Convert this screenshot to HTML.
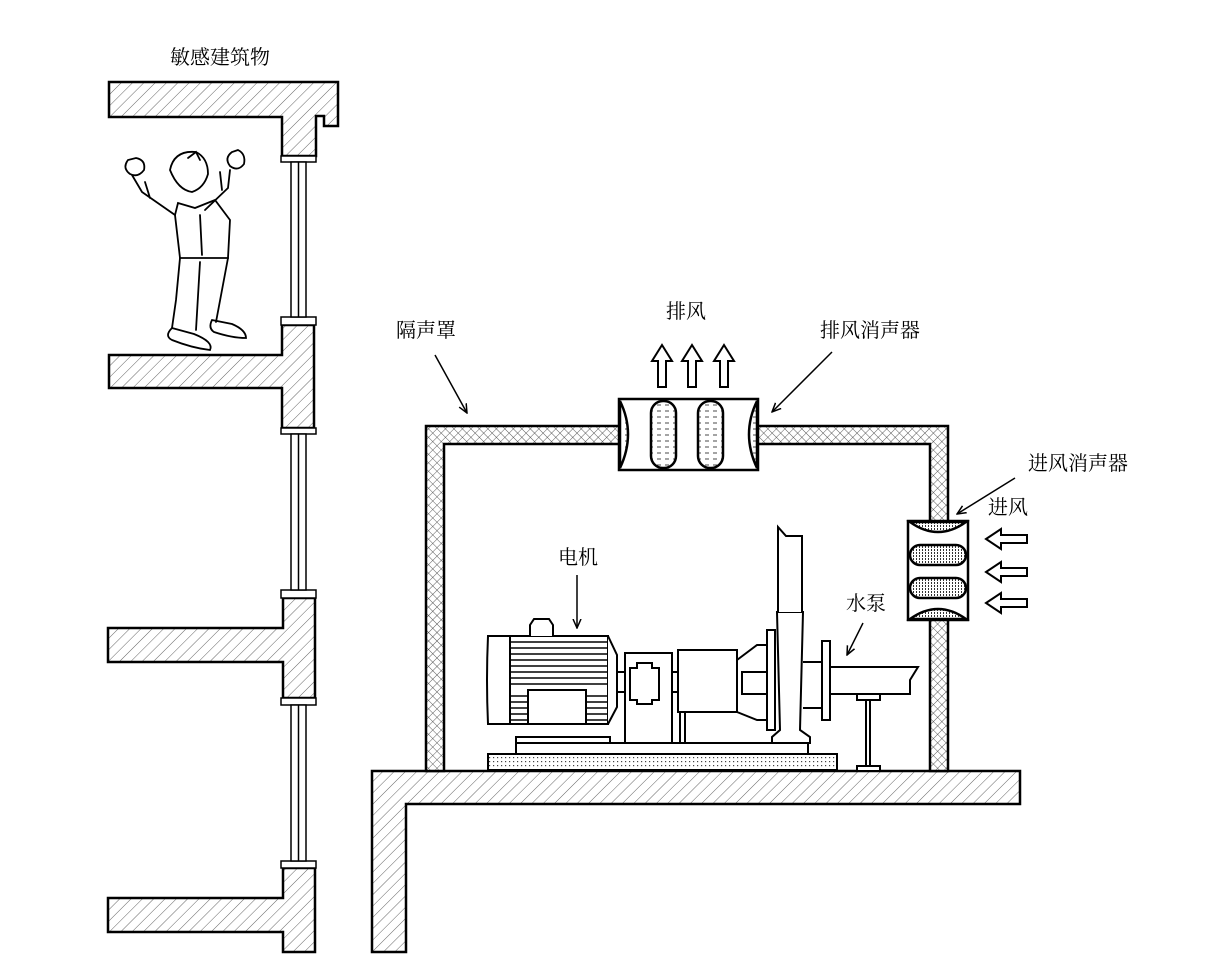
<!DOCTYPE html>
<html><head><meta charset="utf-8"><style>
html,body{margin:0;padding:0;background:#fff;}
svg{display:block;}
text{font-family:"Liberation Serif","Noto Serif CJK SC","Noto Sans CJK SC",serif;font-size:20px;fill:#000;}
</style></head><body>
<svg width="1222" height="973" viewBox="0 0 1222 973" xmlns="http://www.w3.org/2000/svg">
<defs>
<pattern id="h" width="8" height="8" patternUnits="userSpaceOnUse" patternTransform="rotate(45)">
<rect width="8" height="8" fill="#fff"/><line x1="0" y1="0" x2="0" y2="8" stroke="#555" stroke-width="0.9"/></pattern>
<pattern id="x" width="6" height="6" patternUnits="userSpaceOnUse" patternTransform="rotate(45)">
<rect width="6" height="6" fill="#fff"/><line x1="0" y1="0" x2="0" y2="6" stroke="#333" stroke-width="0.8"/><line x1="0" y1="0" x2="6" y2="0" stroke="#333" stroke-width="0.8"/></pattern>
<pattern id="d" width="8" height="6" patternUnits="userSpaceOnUse">
<rect width="8" height="6" fill="#fff"/><line x1="1" y1="3" x2="5" y2="3" stroke="#333" stroke-width="0.9"/></pattern>
<pattern id="g" width="4" height="4" patternUnits="userSpaceOnUse">
<rect width="4" height="4" fill="#fff"/><rect x="1" y="1" width="1.2" height="1.2" fill="#444"/></pattern>
<pattern id="g2" width="3" height="3" patternUnits="userSpaceOnUse">
<rect width="3" height="3" fill="#fff"/><rect x="1" y="0" width="1" height="2" fill="#333"/></pattern>
<marker id="ar" markerWidth="10" markerHeight="10" refX="9" refY="5" orient="auto" markerUnits="userSpaceOnUse">
<path d="M0,1 L9,5 L0,9" fill="none" stroke="#000" stroke-width="1.5"/></marker>
</defs>
<g stroke="#000" stroke-width="2.5" fill="url(#h)">
<path d="M109,82 H338 V126 H324 V116 H316 V156 H282 V117 H109 Z"/>
<path d="M109,355 H282 V325 H314 V428 H282 V388 H109 Z"/>
<path d="M108,628 H283 V598 H315 V698 H283 V662 H108 Z"/>
<path d="M108,898 H283 V868 H315 V952 H283 V932 H108 Z"/>
<path d="M372,771 H1020 V804 H406 V952 H372 Z"/>
</g>
<g stroke="#000" stroke-width="1.5" fill="#fff">
<rect x="281" y="156" width="35" height="6"/><rect x="281" y="317" width="35" height="8"/>
<rect x="291" y="162" width="15" height="155"/><line x1="298.5" y1="162" x2="298.5" y2="317"/>
<rect x="281" y="428" width="35" height="6"/><rect x="281" y="590" width="35" height="8"/>
<rect x="291" y="434" width="15" height="156"/><line x1="298.5" y1="434" x2="298.5" y2="590"/>
<rect x="281" y="698" width="35" height="7"/><rect x="281" y="861" width="35" height="7"/>
<rect x="291" y="705" width="15" height="156"/><line x1="298.5" y1="705" x2="298.5" y2="861"/>
</g>
<path d="M426,771 V426 H948 V771 H930 V444 H444 V771 Z" fill="url(#x)" stroke="#000" stroke-width="2.5"/>
<g stroke="#000" stroke-width="2.5">
<rect x="619" y="399" width="139" height="71" fill="#fff"/>
<path d="M620,401 Q636,434 620,468 Z" fill="url(#d)"/>
<path d="M757,401 Q741,434 757,468 Z" fill="url(#d)"/>
<rect x="651" y="401" width="25" height="67" rx="12" fill="url(#d)"/>
<rect x="698" y="401" width="25" height="67" rx="12" fill="url(#d)"/>
<rect x="908" y="521" width="60" height="99" fill="#fff"/>
<path d="M910,522 Q938,542 966,522 Z" fill="url(#g2)"/>
<path d="M910,619 Q938,599 966,619 Z" fill="url(#g2)"/>
<rect x="910" y="545" width="56" height="20" rx="10" fill="url(#g2)"/>
<rect x="910" y="578" width="56" height="20" rx="10" fill="url(#g2)"/>
</g>
<g stroke="#000" stroke-width="2" fill="#fff">
<path d="M662,345 L672,361 H666 V387 H658 V361 H652 Z"/>
<path d="M692,345 L702,361 H696 V387 H688 V361 H682 Z"/>
<path d="M724,345 L734,361 H728 V387 H720 V361 H714 Z"/>
<path d="M986,539 L1001,529 V535 H1027 V543 H1001 V549 Z"/>
<path d="M986,572 L1001,562 V568 H1027 V576 H1001 V582 Z"/>
<path d="M986,603 L1001,593 V599 H1027 V607 H1001 V613 Z"/>
</g>
<g stroke="#000" stroke-width="1.5" marker-end="url(#ar)">
<line x1="435" y1="355" x2="467" y2="413"/>
<line x1="832" y1="352" x2="772" y2="412"/>
<line x1="1015" y1="478" x2="957" y2="514"/>
<line x1="577" y1="575" x2="577" y2="628"/>
<line x1="863" y1="623" x2="847" y2="655"/>
</g>
<g stroke="#000" stroke-width="2" fill="#fff">
<rect x="488" y="754" width="349" height="16" fill="url(#g)"/>
<rect x="516" y="743" width="292" height="11"/>
<rect x="516" y="737" width="94" height="6"/>
<path d="M510,636 H488 Q486,680 488,724 H510 Z"/>
<rect x="510" y="636" width="98" height="88"/>
<path d="M608,636 L617,655 V707 L608,724"/>
<path d="M530,636 V625 L534,619 H549 L553,625 V636"/>
<rect x="528" y="690" width="58" height="34"/>
<rect x="625" y="653" width="47" height="90"/>
<rect x="617" y="672" width="8" height="20"/>
<path d="M630,668 H637 V663 H652 V668 H659 V700 H652 V704 H637 V700 H630 Z"/>
<rect x="672" y="672" width="6" height="20"/>
<rect x="678" y="650" width="59" height="62"/>
<path d="M737,660 L757,645 H767 V720 H757 L737,712 Z"/>
<rect x="742" y="672" width="25" height="22"/>
<rect x="767" y="630" width="8" height="100"/>
<path d="M777,612 H803 L800,730 L810,737 V743 H772 V737 L780,730 Z"/>
<path d="M778,612 V527 L786,536 H802 V612"/>
<path d="M803,662 H822 V708 H803"/>
<rect x="822" y="641" width="8" height="79"/>
<path d="M830,667 H918 L910,680 V694 H830 Z"/>
<rect x="857" y="694" width="23" height="6"/>
<rect x="866" y="700" width="4" height="66"/>
<rect x="857" y="766" width="23" height="5"/>
<line x1="680" y1="712" x2="680" y2="743"/>
<line x1="685" y1="712" x2="685" y2="743"/>
</g>
<g stroke="#000" stroke-width="1.5">
<line x1="510" y1="642" x2="608" y2="642"/><line x1="510" y1="648" x2="608" y2="648"/>
<line x1="510" y1="654" x2="608" y2="654"/><line x1="510" y1="660" x2="608" y2="660"/>
<line x1="510" y1="666" x2="608" y2="666"/><line x1="510" y1="672" x2="608" y2="672"/>
<line x1="510" y1="678" x2="608" y2="678"/><line x1="510" y1="684" x2="608" y2="684"/>
<line x1="510" y1="696" x2="528" y2="696"/><line x1="586" y1="696" x2="608" y2="696"/>
<line x1="510" y1="702" x2="528" y2="702"/><line x1="586" y1="702" x2="608" y2="702"/>
<line x1="510" y1="708" x2="528" y2="708"/><line x1="586" y1="708" x2="608" y2="708"/>
<line x1="510" y1="714" x2="528" y2="714"/><line x1="586" y1="714" x2="608" y2="714"/>
<line x1="510" y1="720" x2="528" y2="720"/><line x1="586" y1="720" x2="608" y2="720"/>
</g>
<g stroke="#000" stroke-width="1.8" fill="none" stroke-linecap="round">
<path d="M128,160 q-6,8 2,14 q8,4 14,-4 q2,-10 -8,-12 z"/>
<path d="M232,152 q-8,6 -2,14 q8,6 14,-2 q2,-10 -6,-14 z"/>
<path d="M132,175 L142,192 L175,215 M145,182 L150,198"/>
<path d="M230,170 L228,188 L205,210 M220,172 L222,190"/>
<path d="M170,170 q4,-20 26,-18 q12,6 12,22 q-4,14 -16,18 q-14,-2 -22,-22 z"/>
<path d="M188,158 l8,-6 l4,8"/>
<path d="M178,203 L175,215 L180,258 L228,258 L230,220 L215,200 L195,208 Z"/>
<path d="M200,215 L202,255 M180,258 L176,300 L172,328 M228,258 L222,290 L216,322 M200,262 L196,330"/>
<path d="M172,328 q-8,8 0,12 q20,8 38,10 q4,-8 -16,-16 z"/>
<path d="M212,320 q-4,8 2,12 q18,6 32,6 q0,-8 -14,-14 z"/>
</g>
<text x="220" y="64" text-anchor="middle">敏感建筑物</text>
<text x="426" y="337" text-anchor="middle">隔声罩</text>
<text x="686" y="318" text-anchor="middle">排风</text>
<text x="870" y="337" text-anchor="middle">排风消声器</text>
<text x="1078" y="470" text-anchor="middle">进风消声器</text>
<text x="1008" y="514" text-anchor="middle">进风</text>
<text x="578" y="564" text-anchor="middle">电机</text>
<text x="866" y="610" text-anchor="middle">水泵</text>
</svg>
</body></html>
